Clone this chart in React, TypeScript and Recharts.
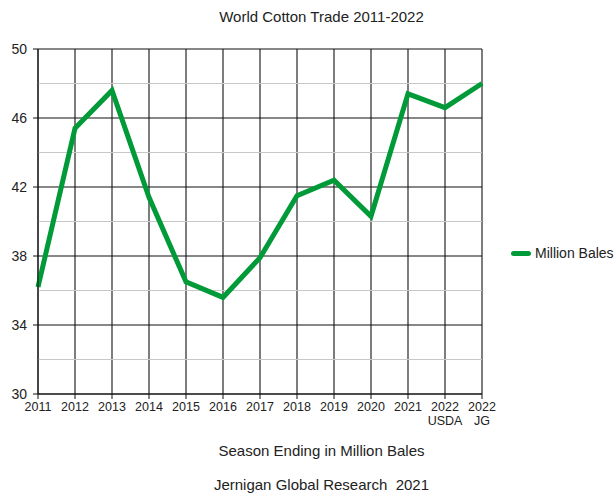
import {
  CartesianGrid,
  Line,
  LineChart,
  ReferenceLine,
  XAxis,
  YAxis,
} from "recharts";

// Season labels; "\n" splits a label onto a second line.
const SEASONS = [
  "2011",
  "2012",
  "2013",
  "2014",
  "2015",
  "2016",
  "2017",
  "2018",
  "2019",
  "2020",
  "2021",
  "2022\nUSDA",
  "2022\nJG",
];

// World trade, million bales.
const MILLION_BALES = [36.2, 45.4, 47.6, 41.4, 36.5, 35.6, 37.9, 41.5, 42.4, 40.3, 47.4, 46.6, 48.0];

const MAJOR_TICKS = [30, 34, 38, 42, 46, 50];
const MINOR_TICKS = [32, 36, 40, 44, 48];

const GREEN = "#009a38";
const INK = "#222222";
const RULE = "#111111";
const FONT = '"Liberation Sans", Arial, Helvetica, sans-serif';

const data = SEASONS.map((season, i) => ({ season, value: MILLION_BALES[i] }));

function SeasonTick(props: any) {
  const { x, y, payload } = props;
  const lines = String(payload.value).split("\n");
  return (
    <text x={x} y={y} textAnchor="middle" fontSize={12.5} fill={INK} fontFamily={FONT}>
      {lines.map((l, i) => (
        <tspan key={i} x={x} dy={i === 0 ? 10 : 13.5}>
          {l}
        </tspan>
      ))}
    </text>
  );
}

export default function App() {
  return (
    <div
      style={{
        position: "absolute",
        left: 0,
        top: 0,
        width: 615,
        height: 493,
        background: "#fff",
        fontFamily: FONT,
        color: INK,
      }}
    >
      <div
        style={{
          position: "absolute",
          left: 0,
          width: 643,
          top: 8,
          textAlign: "center",
          fontSize: 15,
          lineHeight: "18px",
        }}
      >
        World Cotton Trade 2011-2022
      </div>

      <LineChart
        width={615}
        height={493}
        data={data}
        margin={{ top: 49, right: 133, bottom: 69, left: 0 }}
      >
        <CartesianGrid stroke={RULE} strokeWidth={1.1} />
        {MINOR_TICKS.map((t) => (
          <ReferenceLine key={t} y={t} stroke="#c8c8c8" strokeWidth={1} />
        ))}
        <XAxis
          dataKey="season"
          interval={0}
          height={30}
          tickSize={5}
          tickLine={{ stroke: RULE }}
          axisLine={{ stroke: RULE }}
          tick={<SeasonTick />}
        />
        <YAxis
          domain={[30, 50]}
          ticks={MAJOR_TICKS}
          width={38}
          tickSize={5}
          tickMargin={6}
          tickLine={{ stroke: RULE }}
          axisLine={{ stroke: RULE }}
          tick={{ fontSize: 14, fill: INK, fontFamily: FONT }}
        />
        <Line
          type="linear"
          dataKey="value"
          name="Million Bales"
          stroke={GREEN}
          strokeWidth={5}
          strokeLinejoin="miter"
          dot={false}
          isAnimationActive={false}
        />
      </LineChart>

      <div
        style={{
          position: "absolute",
          left: 511,
          top: 245,
          display: "flex",
          alignItems: "center",
          fontSize: 14,
          lineHeight: "17px",
        }}
      >
        <span
          style={{
            display: "inline-block",
            width: 20,
            height: 5,
            borderRadius: 3,
            background: GREEN,
            marginRight: 4,
          }}
        />
        Million Bales
      </div>

      <div
        style={{
          position: "absolute",
          left: 0,
          width: 643,
          top: 442,
          textAlign: "center",
          fontSize: 15,
          lineHeight: "18px",
        }}
      >
        Season Ending in Million Bales
      </div>
      <div
        style={{
          position: "absolute",
          left: 0,
          width: 643,
          top: 476,
          textAlign: "center",
          fontSize: 15,
          lineHeight: "18px",
          whiteSpace: "pre",
        }}
      >
        {"Jernigan Global Research  2021"}
      </div>
    </div>
  );
}
